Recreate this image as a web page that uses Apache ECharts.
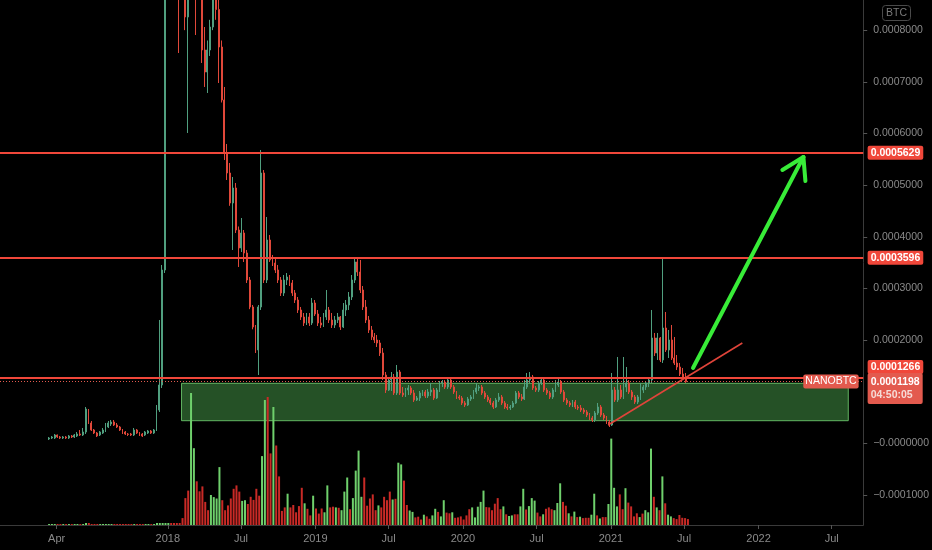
<!DOCTYPE html>
<html><head><meta charset="utf-8">
<script src="https://cdn.jsdelivr.net/npm/echarts/dist/echarts.min.js"></script>
<style>html,body{margin:0;padding:0;background:#000;}#c{width:932px;height:550px;}</style>
</head><body><div id="c"></div>
<script>
// Weekly NANOBTC candles, prices in satoshi (1e-8 BTC)
const firstWeek = '2017-03-13';
const openSat = [871,1065,1065,1645,1258,1065,1258,1065,1452,1258,
1452,1839,1645,2226,6484,3968,2613,2032,1645,2032,
2420,3194,3775,4162,3581,3194,2613,2226,1839,1839,
1645,2613,2032,1839,1645,2032,2420,2032,2613,6484,
11323,33579,125000,190000,160000,130000,110000,98000,105000,82545,
95000,88000,95000,90000,87000,76158,71900,76158,80609,92000,
84000,76738,66481,56224,52353,46547,49450,41321,37837,40740,
36870,31643,26418,22548,18096,26418,52353,31643,39385,35515,
34934,33579,31643,29127,31643,32224,31062,29127,27773,25838,
24483,23322,24483,23322,27192,25063,23322,22935,24483,25838,
23902,22935,23902,24483,22548,25838,26805,28353,31643,35128,
33192,29708,26418,23902,21967,20612,20032,19451,17516,13258,
10355,12290,12871,9774,13839,9774,9387,10355,10742,9774,
8419,8807,9774,9968,9194,9968,10355,8807,10355,11710,
11903,10936,12290,10936,9968,9000,8807,7839,7452,8613,
9000,9968,10742,10936,9774,9000,8419,7839,7065,8419,
9000,7839,7065,6871,7065,7839,9774,9000,8613,10936,
12290,12871,10742,10355,11710,12290,10355,9774,9000,10355,
11323,11903,9968,8419,7839,7452,8032,7065,6871,6484,
6097,5516,4936,4549,5904,7065,5516,4936,4162,3581,
10355,8419,10355,9000,10936,11710,9968,9000,8032,9000,
10355,10936,11710,12290,20419,17516,20419,16161,22354,18096,
20032,16548,15580,14806,13452,12677];
const closeSat = [1065,1258,1645,1258,1065,1258,1065,1452,1258,1645,
1839,1645,2226,6678,3968,2613,2032,1452,2226,2613,
3194,3968,4162,3581,3194,2613,2032,1839,1742,1645,
2613,2032,1645,1452,2226,2420,2032,2613,6484,11323,
33579,125000,190000,160000,130000,110000,98000,105000,82545,95000,
88000,95000,90000,87000,76158,71900,76158,80609,92000,84000,
76738,66481,56224,52353,46547,49450,41321,37837,40740,36870,
31643,26418,22548,18096,26418,52353,31643,39385,35515,34934,
33579,31643,29127,31643,32224,31062,29127,27773,25838,24483,
23322,24483,23322,27192,25063,23322,22935,24483,25838,23902,
22935,23902,24483,22548,25838,26805,28353,31643,35128,33192,
29708,26418,23902,21967,20612,20032,19451,17516,13258,10355,
12290,12871,9774,13839,9774,9387,10355,10742,9774,8419,
8807,9774,9968,9194,9968,10355,8807,10355,11710,11903,
10936,12290,10936,9968,9000,8807,7839,7452,8613,9000,
9968,10742,10936,9774,9000,8419,7839,7065,8419,9000,
7839,7065,6871,7065,7839,9774,9000,8613,10936,12290,
12871,10742,10355,11710,12290,10355,9774,9000,10355,11323,
11903,9968,8419,7839,7452,8032,7065,6871,6484,6097,
5516,4936,4549,5904,7065,5516,4936,4162,3581,10355,
8419,10355,9000,10936,11710,9968,9000,8032,9000,10355,
10936,11710,12290,20419,17516,20419,16161,22354,18096,20032,
16548,15580,14806,13452,12677,11980];
const lowSat = [677,871,871,1065,871,871,871,871,1065,1065,
1258,1452,1452,1839,3775,2420,1839,1258,1452,1839,
2226,3000,3388,3388,3000,2420,1839,1645,1452,1452,
1452,1839,1452,1258,1452,1839,1839,1839,2420,6097,
10742,32998,110000,130000,110000,90000,75577,88000,80000,60095,
86000,87000,79061,86000,73642,69000,67836,75000,80000,82000,
69771,66000,54869,51000,46000,37450,40740,34160,37063,35128,
31062,26000,22100,17516,13258,25838,31062,31062,35128,34353,
32998,31062,28547,28547,30675,30482,28547,27192,25257,23902,
22741,22935,22741,22935,24677,22741,22354,22548,23902,23322,
22354,22354,23322,21967,22354,24677,25838,27773,31062,32417,
29127,25838,23322,21386,20032,19451,18677,16935,12290,9774,
10162,10162,9387,9387,9387,9000,9000,9387,9387,8032,
8226,8226,9194,8807,8807,9194,8419,8613,9968,10936,
10549,10549,10549,9581,8613,8419,7452,7065,7258,8226,
8613,9581,10162,9387,8613,8032,7452,6678,6871,8032,
7452,6678,6484,6484,6871,7645,8613,8226,8419,10549,
11710,10355,9968,9968,11323,9968,9387,8613,8613,9968,
10936,9581,8032,7452,7065,7065,6678,6484,6097,5710,
5129,4549,4162,4162,5516,5129,4549,3775,3194,3388,
8032,8032,8613,8613,9968,9581,8419,7645,7645,8419,
9774,10355,10936,11710,16935,16161,15774,15580,17709,16548,
16161,15193,14226,13065,12290,11710];
const highSat = [1258,1452,1839,1742,1452,1452,1452,1645,1645,1839,
2226,2613,3000,7065,6678,4355,2806,2226,2420,3000,
3968,4355,4549,4549,3968,3388,2806,2420,2032,2032,
3000,2806,2226,2032,2420,2613,2613,2806,7452,23902,
34547,150000,260000,210000,180000,150000,130000,120000,110000,100000,
100000,100000,100000,95000,96000,80609,78000,82000,96000,95000,
88000,78000,69000,57966,54288,51579,50418,42000,43643,41321,
37450,32224,26805,22935,26805,56805,52934,43836,40353,36483,
35902,34547,32224,32611,32998,32611,31643,29708,28353,26418,
25257,25257,25257,28160,27773,25838,24483,25257,29708,26418,
25257,24677,25257,24677,27192,27773,29321,32611,35902,35902,
35515,30482,27773,24677,22741,21386,20999,20032,18483,13839,
12871,13839,13452,15193,14226,10936,10742,11323,11129,10355,
9194,10162,10355,10355,10549,11710,10742,10742,12097,12290,
12290,12677,12484,11323,10162,9387,9194,8226,9000,9387,
10355,11710,11323,11323,10162,9387,8807,8226,8807,9774,
9387,8226,7645,7452,8226,10162,10162,9581,12290,13645,
13839,13258,11129,12097,12677,12677,10742,10162,10742,12290,
12677,12290,10355,8807,8226,8419,8419,7452,7452,6871,
6484,5904,5323,6291,7839,7452,5904,5323,4549,13645,
10936,16742,11323,16742,14806,12290,10355,9387,9387,11710,
11323,12097,12677,25838,21386,21386,20612,35902,25451,21967,
22935,20612,17129,15580,14613,13645];
// Volume (relative units) and bar direction (1 = up, 0 = down)
const volume = [1,1,1,1,1,1,1,1,1,1, 1,1,1,2,2,1,1,1,1,1, 1,1,1,1,1,1,1,1,1,1,
1,1,1,1,1,1,1,1,2,2, 2,2,2,2,2,2,2,
6.9,26.9,34.4,132,76.8,43.7,33.7,38.6,23.1,14.8,
30.0,27.9,26.5,57.9,24.8,14.8,19.6,26.5,36.2,39.6,
33.4,24.1,24.8,21.0,28.2,25.1,36.2,29.3,68.9,125,
128,71.6,118,79.5,48.6,14.1,17.6,31.3,17.6,20.0,
12.7,18.9,37.2,21.7,16.2,9.6,29.3,16.5,11.4,16.5,
12.7,39.6,17.6,18.3,17.6,17.2,14.8,33.4,47.5,15.8,
26.9,54.4,74.4,28.2,47.5,19.3,26.5,30.6,14.8,19.6,
17.6,28.2,24.8,33.4,25.5,26.2,62.3,60.6,44.4,20.0,
14.5,13.1,7.6,8.3,5.5,10.3,8.6,6.2,9.6,16.2,
13.1,8.6,24.8,12.4,11.7,12.7,7.2,7.6,8.6,5.5,
9.6,15.8,17.6,7.6,18.3,23.1,34.4,17.9,17.6,14.8,
21.3,26.9,15.8,18.6,10.7,9.0,9.6,10.7,10.7,18.6,
36.2,15.5,18.9,26.9,24.4,12.4,8.6,10.7,16.2,17.6,
15.8,14.8,22.0,41.7,23.1,19.3,11.7,8.6,13.4,7.9,
8.3,6.9,7.2,7.2,10.3,31.3,9.6,6.5,7.9,7.9,
21.0,86.4,37.2,18.6,30.6,15.8,36.8,22.4,18.6,8.6,
11.7,7.9,11.4,14.8,12.7,76.4,28.2,17.6,14.8,48.6,
21.7,10.3,8.6,6.9,5.9,10.0,7.2,6.9,5.9];
const volumeUp = [1,1,1,0,0,1,0,1,0,1, 1,0,1,1,0,0,0,0,1,1, 1,1,1,0,0,0,0,0,0,0,
1,0,0,0,1,1,0,1,1,1, 1,1,1,0,0,0,0,
0,0,0,1,1,0,0,0,0,0, 1,1,1,1,0,0,0,0,0,0, 0,1,1,0,0,0,0,0,1,1,
0,0,1,0,0,0,0,1,0,0, 0,0,0,1,0,0,1,0,0,0, 1,1,0,0,1,0,1,1,1,0,
1,1,1,1,0,0,0,0,0,1, 0,0,0,0,1,0,1,1,0,0, 1,1,0,0,0,1,0,0,1,1,
0,1,1,0,0,1,0,0,0,0, 0,0,1,1,1,1,1,0,0,0, 0,0,0,1,0,1,1,0,0,1,
1,0,1,1,1,0,0,1,0,0, 0,1,1,1,0,0,1,0,1,0, 1,0,0,0,1,1,0,1,0,0,
1,1,1,1,0,0,1,0,0,0, 0,1,0,1,1,1,0,1,0,1, 0,1,1,0,0,0,0,0,0];

const priceLevels = [56290, 35960, 12660];
const lastPrice = 11980;
const symbolName = 'NANOBTC';
const countdown = '04:50:05';
const xTickDates = ['2017-04-01','2018-01-01','2018-07-01','2019-01-01','2019-07-01','2020-01-01','2020-07-01','2021-01-01','2021-07-01','2022-01-01','2022-07-01'];
const xTickLabels = ['Apr','2018','Jul','2019','Jul','2020','Jul','2021','Jul','2022','Jul'];
const yTickSat = [-10000, 0, 20000, 30000, 40000, 50000, 60000, 70000, 80000];
const xRange = ['2016-11-12', '2022-09-17'];
const yRangeSat = [-15774, 85835];
const zone = { from: '2018-02-04', to: '2022-08-11', top: 11650, bottom: 4410 };
const arrowLine = [['2021-07-23', 14612], ['2022-04-22', 55449]];
const arrowWings = [['2022-03-01', 52933], ['2022-04-27', 50804]];
const trendLine = [['2020-12-25', 3581], ['2021-11-22', 19451]];

const DAY = 86400000;
const t0 = Date.parse(firstWeek);
const T = s => Date.parse(s);
const weekTimes = openSat.map((_, i) => t0 + i * 7 * DAY);
const candleData = weekTimes.map((t, i) => [t, openSat[i], closeSat[i], lowSat[i], highSat[i]]);
const UP = '#509f7f', DOWN = '#e0483a';
const VUP = '#6fd06c', VDOWN = '#c92a26';
const volData = weekTimes.map((t, i) => ({ value: [t, volume[i]], itemStyle: { color: volumeUp[i] ? VUP : VDOWN } }));
const tickTimes = xTickDates.map(T);
const fmtBTC = v => (v <= 0 ? '\u2212' : '') + (Math.abs(v) / 1e8).toFixed(7);
const xMin = T(xRange[0]), xMax = T(xRange[1]);
const xEdge = xMax - DAY / 4;
const LINE_RED = '#f0473a', BOX_RED = '#f0473a', CUR_RED = '#e35a4e';
const FONT = 'Liberation Sans, Arial, sans-serif';

const labelBase = { show: true, position: 'right', distance: 4, color: '#fff', fontSize: 10.5, fontWeight: 'bold', fontFamily: FONT, padding: [2, 3, 1, 3], borderRadius: 2 };

const chart = echarts.init(document.getElementById('c'), null, { renderer: 'canvas' });
chart.setOption({
  backgroundColor: '#000',
  animation: false,
  title: { text: 'BTC', right: 21, top: 5, padding: [3, 4, 2, 4], borderColor: '#4a4a4a', borderWidth: 1, borderRadius: 3,
    textStyle: { color: '#7a7a7a', fontSize: 10.5, fontWeight: 'normal', fontFamily: FONT } },
  grid: [
    { left: 0, right: 66, top: 0, bottom: 25 },
    { left: 0, right: 66, top: 385, bottom: 25 }
  ],
  xAxis: [
    { type: 'value', gridIndex: 0, min: xMin, max: xMax, scale: true,
      axisLine: { show: true, onZero: false, lineStyle: { color: '#3a3a3a' } },
      axisTick: { show: true, length: 4, lineStyle: { color: '#555' }, customValues: tickTimes },
      axisLabel: { color: '#8a8a8a', fontSize: 11, fontFamily: FONT, margin: 8, customValues: tickTimes,
        formatter: v => { const k = tickTimes.indexOf(v); return k >= 0 ? xTickLabels[k] : ''; } },
      splitLine: { show: false } },
    { type: 'value', gridIndex: 1, min: xMin, max: xMax, scale: true, show: false }
  ],
  yAxis: [
    { type: 'value', gridIndex: 0, position: 'right', min: yRangeSat[0], max: yRangeSat[1],
      axisLine: { show: true, onZero: false, lineStyle: { color: '#3a3a3a' } },
      axisTick: { show: true, length: 4, lineStyle: { color: '#555' }, customValues: yTickSat },
      axisLabel: { color: '#8a8a8a', fontSize: 10.5, fontFamily: FONT, margin: 10, customValues: yTickSat, formatter: fmtBTC },
      splitLine: { show: false } },
    { type: 'value', gridIndex: 1, min: 0, max: 140, show: false }
  ],
  series: [
    { type: 'bar', name: 'Volume', xAxisIndex: 1, yAxisIndex: 1, data: volData, barWidth: 2, z: 1, silent: true },
    { type: 'candlestick', name: symbolName, xAxisIndex: 0, yAxisIndex: 0, data: candleData,
      encode: { x: 0, y: [1, 2, 3, 4] }, barWidth: 1.4, z: 2, clip: true, silent: true,
      itemStyle: { color: UP, color0: DOWN, borderColor: UP, borderColor0: DOWN, borderWidth: 1 },
      markLine: { silent: true, symbol: ['none', 'none'], animation: false, label: { show: false },
        data: [
          [{ coord: [T(trendLine[0][0]), trendLine[0][1]] }, { coord: [T(trendLine[1][0]), trendLine[1][1]], lineStyle: { color: '#e0443a', width: 1.6, type: 'solid' } }]
        ] } },
    { type: 'line', name: 'zone', xAxisIndex: 0, yAxisIndex: 0, data: [], z: 3, silent: true,
      markArea: { silent: true, itemStyle: { color: 'rgba(78,170,80,0.48)', borderColor: 'rgba(110,205,110,0.85)', borderWidth: 1 },
        data: [[{ coord: [T(zone.from), zone.top] }, { coord: [T(zone.to), zone.bottom] }]] } },
    { type: 'line', name: 'drawings', xAxisIndex: 0, yAxisIndex: 0, data: [], z: 4, silent: true,
      markLine: { silent: true, symbol: ['none', 'none'], animation: false, label: { show: false },
        data: [
          { yAxis: lastPrice, lineStyle: { color: CUR_RED, width: 1, type: [1, 2] } },
          ...priceLevels.map(v => ({ yAxis: v, lineStyle: { color: LINE_RED, width: 2, type: 'solid' } })),
          [{ coord: [T(arrowLine[0][0]), arrowLine[0][1]] }, { coord: [T(arrowLine[1][0]), arrowLine[1][1]], lineStyle: { color: '#38ec38', width: 4, type: 'solid', cap: 'round' } }],
          ...arrowWings.map(w => [{ coord: [T(arrowLine[1][0]), arrowLine[1][1]] }, { coord: [T(w[0]), w[1]], lineStyle: { color: '#38ec38', width: 4, type: 'solid', cap: 'round' } }])
        ] },
      markPoint: { silent: true, symbol: 'rect', symbolSize: 1, itemStyle: { color: 'rgba(0,0,0,0)' }, animation: false,
        data: [
          { coord: [xEdge, priceLevels[0]], label: Object.assign({}, labelBase, { backgroundColor: BOX_RED, formatter: fmtBTC(priceLevels[0]) }) },
          { coord: [xEdge, priceLevels[1]], label: Object.assign({}, labelBase, { backgroundColor: BOX_RED, formatter: fmtBTC(priceLevels[1]) }) },
          { coord: [xEdge, priceLevels[2]], label: Object.assign({}, labelBase, { backgroundColor: BOX_RED, offset: [0, -11], formatter: fmtBTC(priceLevels[2]) }) },
          { coord: [xEdge, lastPrice], label: Object.assign({}, labelBase, { backgroundColor: CUR_RED, offset: [0, 7], padding: [2, 3, 2, 3],
              formatter: '{a|' + fmtBTC(lastPrice) + '}\n{b|' + countdown + '}',
              rich: { a: { color: '#fff', fontSize: 10.5, fontWeight: 'bold', fontFamily: FONT, lineHeight: 14 },
                      b: { color: '#f6dcd8', fontSize: 10.5, fontFamily: FONT, lineHeight: 13 } } }) },
          { coord: [xEdge, lastPrice], label: Object.assign({}, labelBase, { position: 'left', distance: 4, backgroundColor: CUR_RED, fontWeight: 'normal', fontSize: 10.5, padding: [2, 2, 1, 2], formatter: symbolName }) }
        ] } }
  ]
});
</script>
</body></html>
